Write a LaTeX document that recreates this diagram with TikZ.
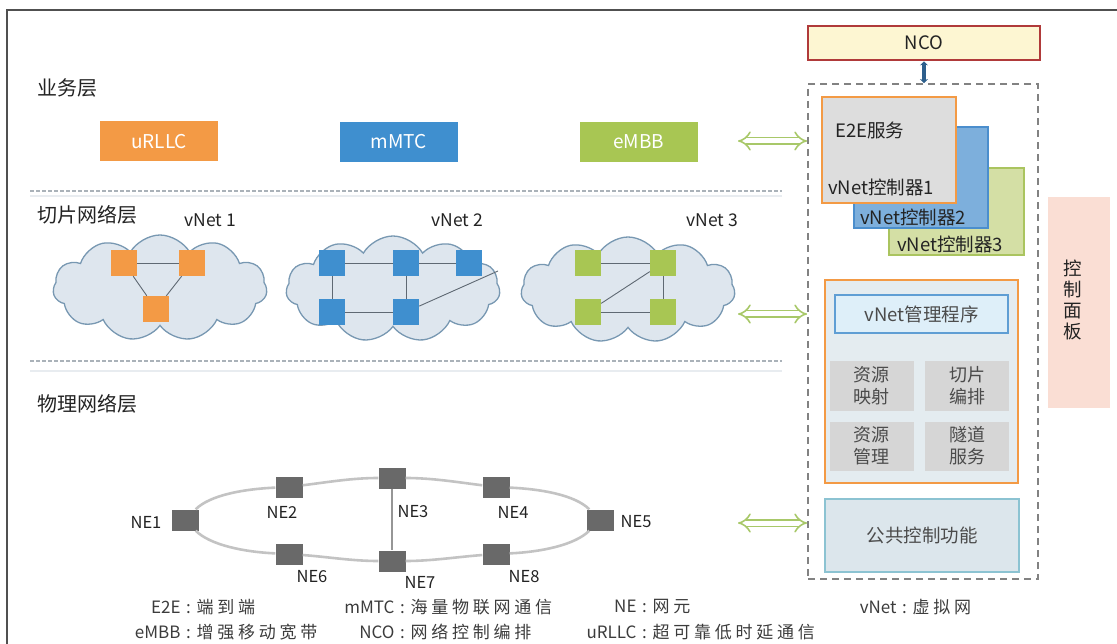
\documentclass[tikz,border=0pt]{standalone}
\usepackage{fontspec}
\setmainfont{Noto Sans CJK SC}
\newfontfamily\cjksp[LetterSpace=22]{Noto Sans CJK SC}
\usetikzlibrary{shapes.symbols,arrows.meta}
\definecolor{cOrange}{RGB}{243,154,69}
\definecolor{cBlue}{RGB}{63,143,207}
\definecolor{cGreen}{RGB}{168,198,83}
\definecolor{cCloudFill}{RGB}{222,230,238}
\definecolor{cCloudLine}{RGB}{120,152,178}
\definecolor{cTxt}{RGB}{35,35,35}
\definecolor{cLeg}{RGB}{60,60,60}
\definecolor{cGrayTxt}{RGB}{75,75,75}
\definecolor{cNE}{RGB}{105,105,105}
\definecolor{cRing}{RGB}{195,195,195}
\definecolor{cVlink}{RGB}{150,150,150}
\definecolor{cNCOfill}{RGB}{253,246,210}
\definecolor{cNCOline}{RGB}{176,58,58}
\definecolor{cArrowDark}{RGB}{45,95,140}
\definecolor{cCtlTwoFill}{RGB}{125,175,220}
\definecolor{cCtlTwoLine}{RGB}{75,142,205}
\definecolor{cCtlThreeFill}{RGB}{212,223,165}
\definecolor{cCtlThreeLine}{RGB}{170,196,95}
\definecolor{cCtlOneFill}{RGB}{221,221,221}
\definecolor{cPink}{RGB}{250,222,212}
\definecolor{cMgmtFill}{RGB}{228,236,240}
\definecolor{cInnerFill}{RGB}{222,239,249}
\definecolor{cInnerLine}{RGB}{95,158,212}
\definecolor{cCell}{RGB}{214,214,214}
\definecolor{cCommonFill}{RGB}{220,230,236}
\definecolor{cCommonLine}{RGB}{140,195,210}
\definecolor{cDash}{RGB}{130,130,130}
\definecolor{cHollow}{RGB}{168,200,105}
\definecolor{cFrame}{RGB}{80,80,80}
\definecolor{cSep}{RGB}{170,178,185}
\definecolor{cSepFaint}{RGB}{232,236,240}
\definecolor{cLink}{RGB}{95,105,115}
\newcommand\lgitem[2]{\makebox[0pt][r]{#1\,\,}:\,\,{\cjksp #2}}
\begin{document}
\begin{tikzpicture}[x=1pt,y=-1pt,
  font=\fontsize{18.5pt}{21pt}\selectfont,
  every node/.style={text=cTxt},
  framel/.style={draw=cFrame,line width=1.2pt},
  layerlbl/.style={anchor=west,inner sep=0pt,font=\fontsize{20pt}{23pt}\selectfont},
  sepl/.style={draw=cSep,line width=1.2pt,dash pattern=on 4pt off 2pt},
  sepfaint/.style={draw=cSepFaint,line width=2pt},
  svcbox/.style={rectangle,minimum width=118pt,minimum height=40pt,text=white,inner sep=0pt,font=\fontsize{19pt}{22pt}\selectfont},
  cloudsh/.style={cloud,cloud puffs=11,cloud puff arc=120,cloud ignores aspect,draw=cCloudLine,fill=cCloudFill,line width=1.3pt,minimum width=214pt,minimum height=106pt,inner sep=0pt},
  vlbl/.style={font=\fontsize{17.5pt}{20pt}\selectfont,inner sep=0pt},
  sq/.style={rectangle,minimum size=26pt,inner sep=0pt},
  cl/.style={draw=cLink,line width=0.9pt},
  hollow/.style={draw=cHollow,double=white,double distance=5pt,line width=1.6pt,{Implies}-{Implies}},
  dashbox/.style={rectangle,draw=cDash,line width=1.8pt,dash pattern=on 7pt off 5pt,minimum width=230pt,minimum height=495pt,inner sep=0pt},
  ncobox/.style={rectangle,draw=cNCOline,fill=cNCOfill,line width=2.8pt,minimum width=232pt,minimum height=34pt,inner sep=0pt},
  ncoarr/.style={draw=cArrowDark,line width=3.5pt,{Stealth[length=4pt,width=8pt]}-{Stealth[length=4pt,width=8pt]}},
  ctl/.style={rectangle,line width=1.8pt,inner sep=0pt},
  ctltxt/.style={anchor=west,inner sep=0pt},
  cell/.style={rectangle,fill=cCell,minimum width=84pt,minimum height=49pt,align=center,text=cGrayTxt,inner sep=0pt,font=\fontsize{18pt}{22pt}\selectfont},
  ne/.style={rectangle,fill=cNE,minimum width=27pt,minimum height=21pt,inner sep=0pt},
  nelbl/.style={font=\fontsize{16.5pt}{19pt}\selectfont,inner sep=0pt},
  ring/.style={draw=cRing,line width=2.6pt},
  vlink/.style={draw=cVlink,line width=1.3pt},
  leg/.style={anchor=west,inner sep=0pt,text=cLeg,font=\fontsize{17pt}{20pt}\selectfont}
]
\useasboundingbox (0,0) rectangle (1117,644);
% frame
\draw[framel] (7,644) -- (7,10) -- (1117,10);

% layer labels
\node[layerlbl] (lyr1) at (37,88) {业务层};
\node[layerlbl] (lyr2) at (37,215) {切片网络层};
\node[layerlbl] (lyr3) at (37,404) {物理网络层};

% separators
\draw[sepfaint] (30,196) -- (782,196);
\draw[sepl] (30,191) -- (782,191);
\draw[sepfaint] (30,371) -- (782,371);
\draw[sepl] (30,361) -- (782,361);

% service boxes
\node[svcbox,fill=cOrange] (urllc) at (159,141.5) {uRLLC};
\node[svcbox,fill=cBlue] (mmtc) at (398.5,142) {mMTC};
\node[svcbox,fill=cGreen] (embb) at (638.5,142) {eMBB};

% clouds
\node[cloudsh] (cl1) at (160,288) {};
\node[cloudsh] (cl2) at (393,289) {};
\node[cloudsh] (cl3) at (628,290) {};
\node[vlbl] (vn1) at (210,220) {vNet 1};
\node[vlbl] (vn2) at (457,220) {vNet 2};
\node[vlbl] (vn3) at (712,220) {vNet 3};

% vNet 1
\node[sq,fill=cOrange] (a1) at (124,263) {};
\node[sq,fill=cOrange] (a2) at (192,263) {};
\node[sq,fill=cOrange] (a3) at (156,309) {};
\draw[cl] (a1) -- (a2);
\draw[cl] (a1) -- (a3);
\draw[cl] (a2) -- (a3);

% vNet 2
\node[sq,fill=cBlue] (b1) at (332,263) {};
\node[sq,fill=cBlue] (b2) at (406,263) {};
\node[sq,fill=cBlue] (b3) at (469,263) {};
\node[sq,fill=cBlue] (b4) at (332,312) {};
\node[sq,fill=cBlue] (b5) at (406,312) {};
\coordinate (bx) at (498,271);
\draw[cl] (b1) -- (b2);
\draw[cl] (b2) -- (b3);
\draw[cl] (b1) -- (b4);
\draw[cl] (b2) -- (b5);
\draw[cl] (b4) -- (b5);
\draw[cl] (b5) -- (bx);

% vNet 3
\node[sq,fill=cGreen] (c1) at (588,263) {};
\node[sq,fill=cGreen] (c2) at (663,263) {};
\node[sq,fill=cGreen] (c3) at (588,312) {};
\node[sq,fill=cGreen] (c4) at (663,312) {};
\draw[cl] (c1) -- (c2);
\draw[cl] (c2) -- (c4);
\draw[cl] (c3) -- (c4);
\draw[cl] (c3) -- (c2);

% control plane
\node[dashbox] (cp) at (923,331.5) {};
\node[ncobox] (nco) at (924,43) {NCO};
\draw[ncoarr] (nco.south) -- (nco.south |- cp.north);

% hollow arrows
\coordinate (h1) at (738,141);
\coordinate (h2) at (738,314);
\coordinate (h3) at (738,523);
\draw[hollow] (h1) -- (h1 -| cp.west);
\draw[hollow] (h2) -- (h2 -| cp.west);
\draw[hollow] (h3) -- (h3 -| cp.west);

% controllers
\node[ctl,fill=cCtlThreeFill,draw=cCtlThreeLine,minimum width=135pt,minimum height=87pt] (k3) at (956.5,211.5) {};
\node[ctl,fill=cCtlTwoFill,draw=cCtlTwoLine,minimum width=134pt,minimum height=101pt] (k2) at (921,177.5) {};
\node[ctl,fill=cCtlOneFill,draw=cOrange,minimum width=134pt,minimum height=106pt] (k1) at (889,150) {};
\node[ctltxt] (k1a) at (835,130) {E2E服务};
\node[ctltxt] (k1b) at (828,187) {vNet控制器1};
\node[ctltxt] (k2b) at (860,217) {vNet控制器2};
\node[ctltxt] (k3b) at (897,244) {vNet控制器3};

% pink side block
\node[rectangle,fill=cPink,minimum width=62pt,minimum height=211pt,inner sep=0pt] (pk) at (1079,302.5) {};
\node[align=center,inner sep=0pt] (pkt) at (1073,300) {控\\制\\面\\板};

% vNet management
\node[rectangle,draw=cOrange,line width=2pt,fill=cMgmtFill,minimum width=193pt,minimum height=203pt,inner sep=0pt] (mg) at (921.5,381.5) {};
\node[rectangle,draw=cInnerLine,line width=1.5pt,fill=cInnerFill,minimum width=173pt,minimum height=38pt,inner sep=0pt,text=cGrayTxt] (mgp) at (921.5,314) {vNet管理程序};
\node[cell] (r1) at (871.5,386) {资源\\映射};
\node[cell] (r2) at (967,386) {切片\\编排};
\node[cell] (r3) at (871.5,446) {资源\\管理};
\node[cell] (r4) at (967,446) {隧道\\服务};

% common control
\node[rectangle,draw=cCommonLine,line width=1.5pt,fill=cCommonFill,minimum width=194pt,minimum height=73pt,inner sep=0pt,text=cGrayTxt] (cc) at (922,535.5) {公共控制功能};

% physical network
\node[ne] (ne1) at (185,520) {};
\node[ne] (ne2) at (289,487) {};
\node[ne] (ne3) at (392,478) {};
\node[ne] (ne4) at (496,487) {};
\node[ne] (ne5) at (600,520) {};
\node[ne] (ne6) at (289,554) {};
\node[ne] (ne7) at (392,561) {};
\node[ne] (ne8) at (496,554) {};
\draw[ring] (ne1) .. controls +(25,-25) and +(-45,2) .. (ne2);
\draw[ring] (ne2) .. controls +(40,-5) and +(-40,0) .. (ne3);
\draw[ring] (ne3) .. controls +(40,0) and +(-40,-5) .. (ne4);
\draw[ring] (ne4) .. controls +(45,2) and +(-25,-25) .. (ne5);
\draw[ring] (ne1) .. controls +(25,25) and +(-45,-2) .. (ne6);
\draw[ring] (ne6) .. controls +(40,3) and +(-40,0) .. (ne7);
\draw[ring] (ne7) .. controls +(40,0) and +(-40,3) .. (ne8);
\draw[ring] (ne8) .. controls +(45,-2) and +(-25,25) .. (ne5);
\draw[vlink] (ne3) -- (ne7);
\node[nelbl] (l1) at (146,522) {NE1};
\node[nelbl] (l2) at (282,512) {NE2};
\node[nelbl] (l3) at (413,512) {NE3};
\node[nelbl] (l4) at (513,512) {NE4};
\node[nelbl] (l5) at (636,522) {NE5};
\node[nelbl] (l6) at (312,577) {NE6};
\node[nelbl] (l7) at (420,582) {NE7};
\node[nelbl] (l8) at (524,577) {NE8};

% legend
\node[leg] (g1) at (186,607) {\lgitem{E2E}{端到端}};
\node[leg] (g2) at (186,632) {\lgitem{eMBB}{增强移动宽带}};
\node[leg] (g3) at (400,607) {\lgitem{mMTC}{海量物联网通信}};
\node[leg] (g4) at (400,632) {\lgitem{NCO}{网络控制编排}};
\node[leg] (g5) at (642,607) {\lgitem{NE}{网元}};
\node[leg] (g6) at (642,632) {\lgitem{uRLLC}{超可靠低时延通信}};
\node[leg] (g7) at (902,607) {\lgitem{vNet}{虚拟网}};
\end{tikzpicture}
\end{document}
